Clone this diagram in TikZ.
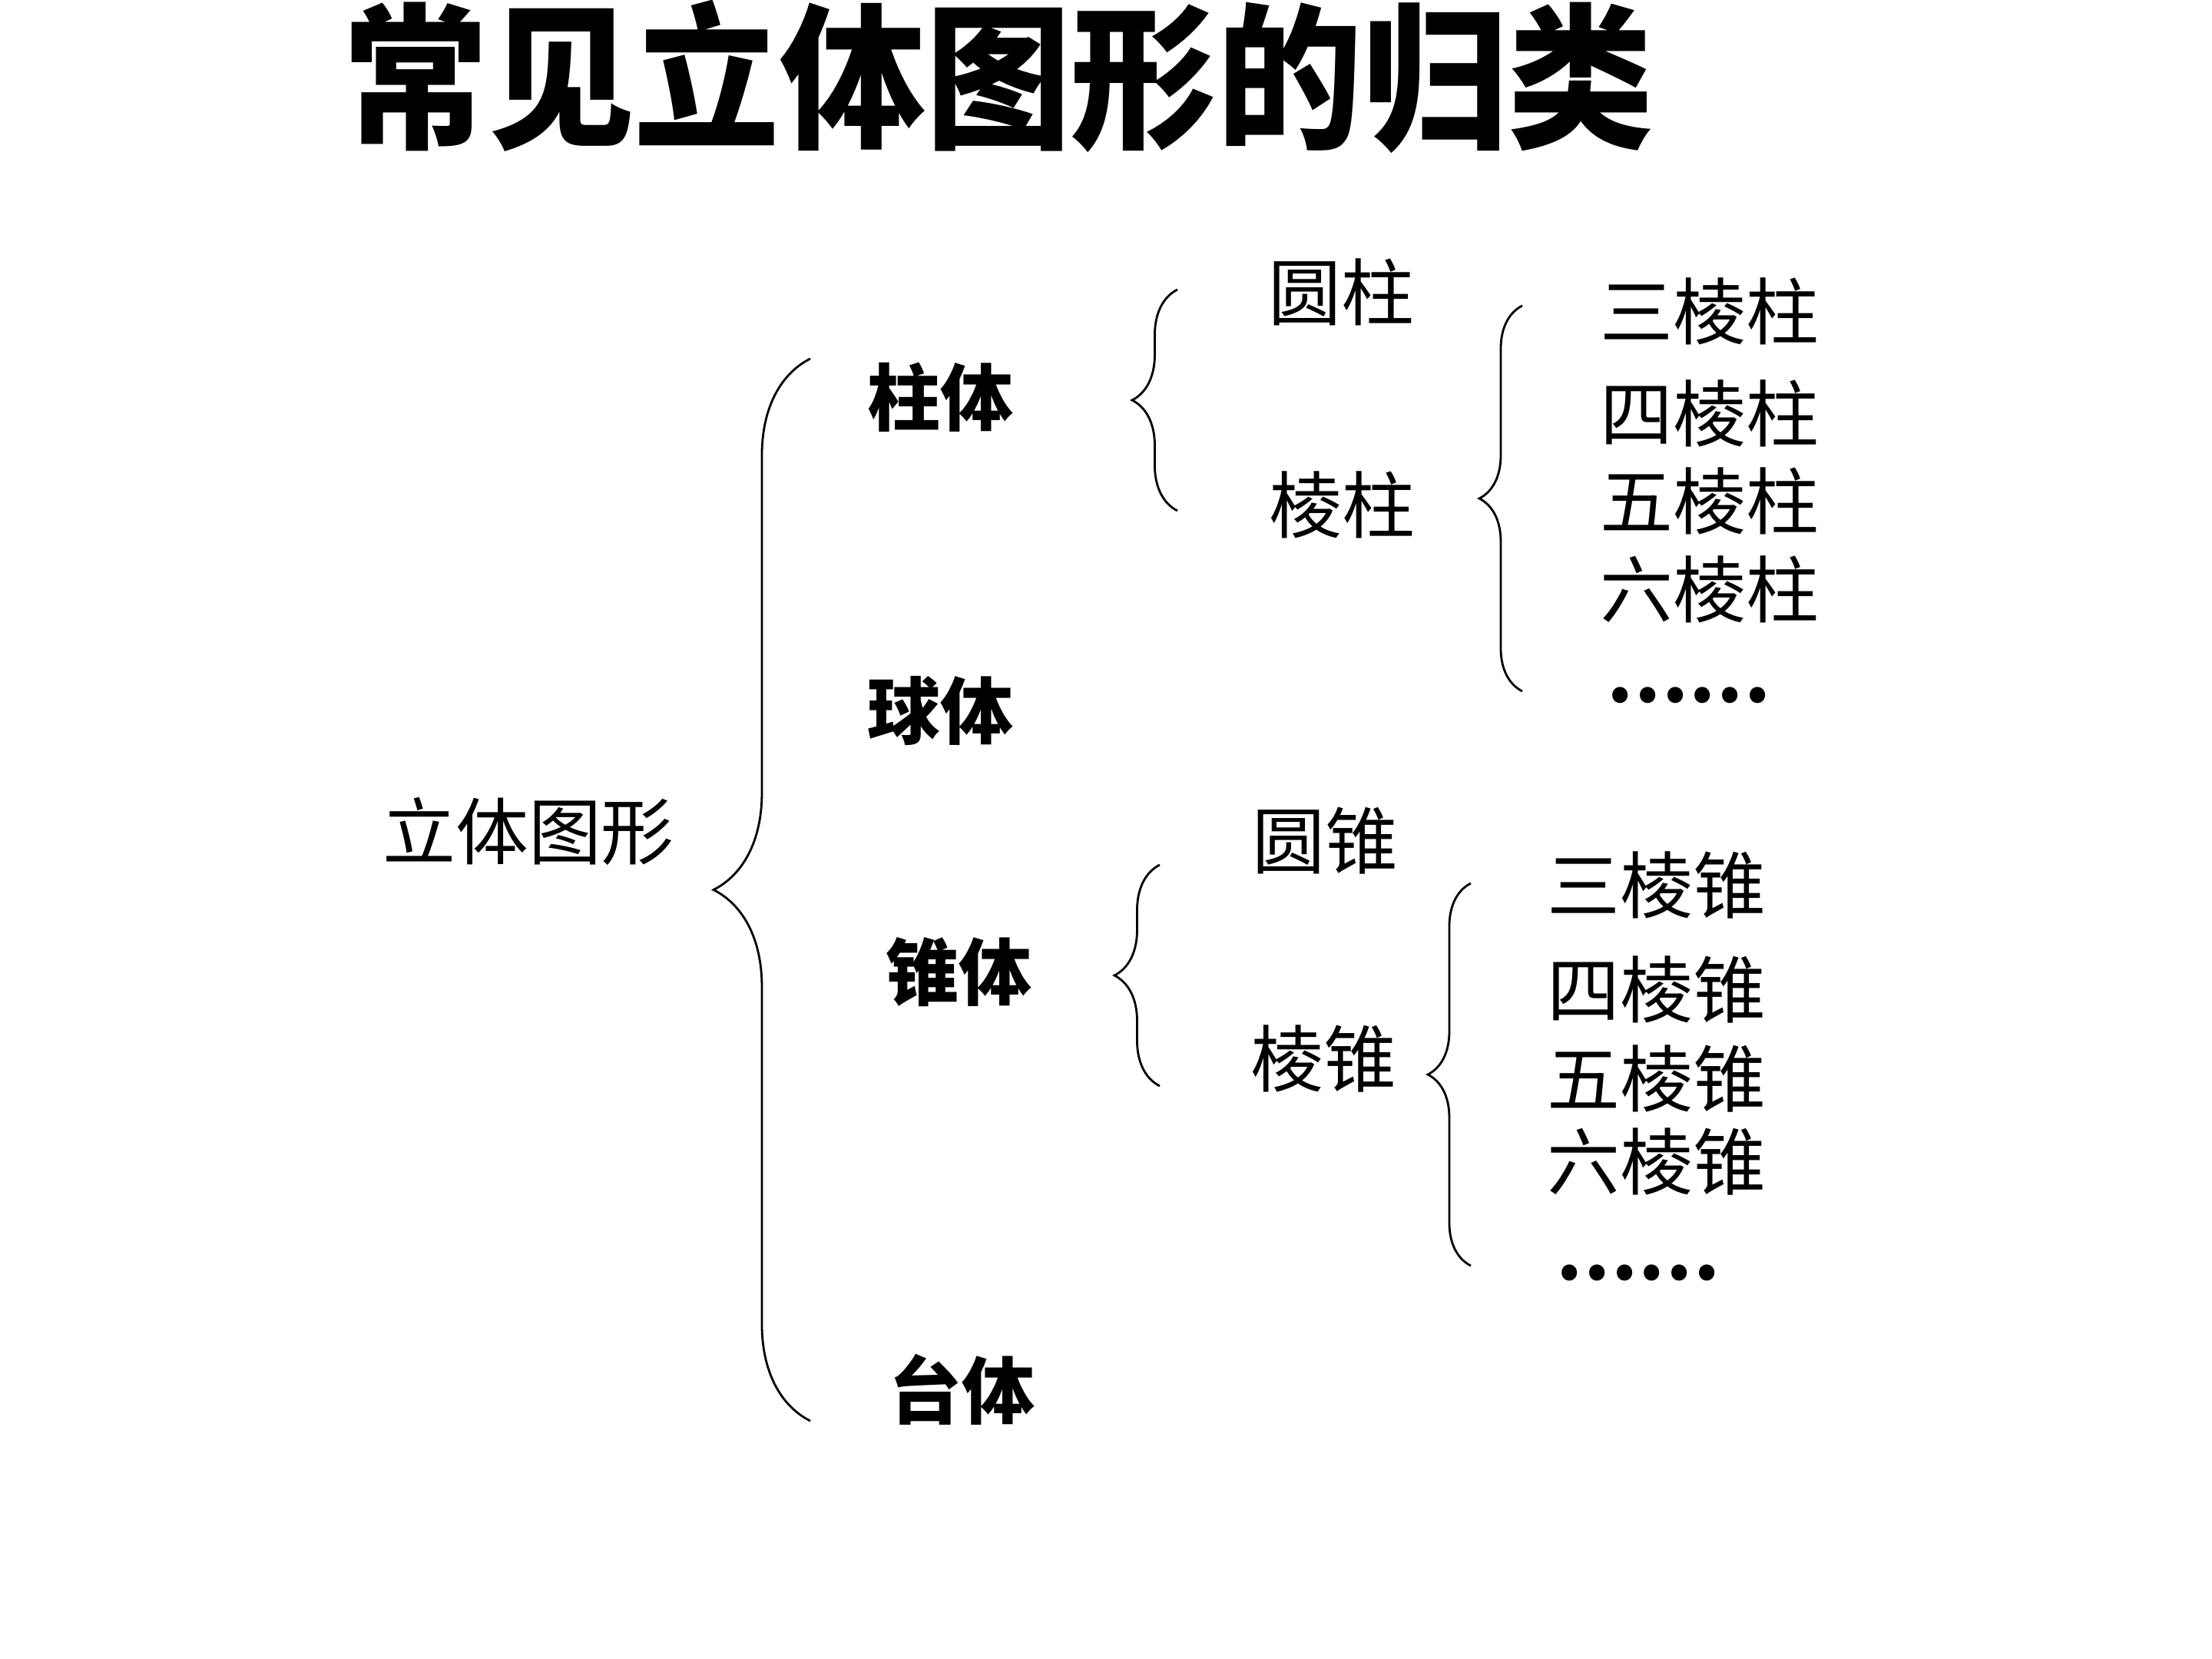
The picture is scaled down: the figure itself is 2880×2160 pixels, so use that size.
\documentclass[tikz,border=0pt]{standalone}
\usepackage{fontspec}
\usepackage{xcolor}
\usetikzlibrary{decorations.pathreplacing}
\newfontfamily\cjk{Noto Sans CJK SC}
\definecolor{ink}{HTML}{000000}
\tikzset{
  headline/.style={font=\cjk\bfseries\fontsize{58}{62}\selectfont, text=ink, inner sep=0pt},
  item/.style={font=\cjk\fontsize{27}{30}\selectfont, text=ink, inner sep=0pt},
  group/.style={font=\cjk\bfseries\fontsize{27}{30}\selectfont, text=ink, inner sep=0pt},
  etc/.style={font=\cjk\bfseries\fontsize{27}{30}\selectfont, text=ink, inner sep=0pt},
  kuohao/.style={decorate, decoration={brace, amplitude=#1}, line width=0.8pt, draw=ink}
}
\begin{document}
\begin{tikzpicture}[x=0.01cm,y=-0.01cm]
  \useasboundingbox (0,0) rectangle (2880,2160);

  \node[headline] (head) at (1300,100) {\scalebox{0.93}[1]{常见立体图形的归类}};

  \node[item] (solid) at (688,1082) {立体图形};

  \node[group] (prism) at (1224,517) {柱体};
  \node[group] (sphere) at (1224,926) {球体};
  \node[group] (cone) at (1248,1266) {锥体};
  \node[group] (frustum) at (1252,1809) {台体};

  \node[item] (cyl) at (1746,380) {圆柱};
  \node[item] (lprism) at (1747,657) {棱柱};
  \node[item] (rcone) at (1725,1095) {圆锥};
  \node[item] (pyr) at (1723,1378) {棱锥};

  \node[item] (p3) at (2226,405) {三棱柱};
  \node[item] (p4) at (2226,538) {四棱柱};
  \node[item] (p5) at (2226,652) {五棱柱};
  \node[item] (p6) at (2226,767) {六棱柱};
  \node[etc] (pdots) at (2198,905) {……};

  \node[item] (y3) at (2157,1152) {三棱锥};
  \node[item] (y4) at (2157,1288) {四棱锥};
  \node[item] (y5) at (2157,1404) {五棱锥};
  \node[item] (y6) at (2157,1512) {六棱锥};
  \node[etc] (ydots) at (2132,1657) {……};

  % brace ends
  \coordinate (solidtop) at (1055,467);
  \coordinate (solidbot) at (1055,1850);
  \coordinate (prismtop) at (1533,377);
  \coordinate (prismbot) at (1533,665);
  \coordinate (lprismtop) at (1982,398);
  \coordinate (lprismbot) at (1982,900);
  \coordinate (conetop) at (1510,1126);
  \coordinate (conebot) at (1510,1414);
  \coordinate (pyrtop) at (1915,1150);
  \coordinate (pyrbot) at (1915,1648);

  \draw[kuohao=1.26cm] (solidbot) -- (solidtop);
  \draw[kuohao=0.59cm] (prismbot) -- (prismtop);
  \draw[kuohao=0.56cm] (lprismbot) -- (lprismtop);
  \draw[kuohao=0.59cm] (conebot) -- (conetop);
  \draw[kuohao=0.56cm] (pyrbot) -- (pyrtop);
\end{tikzpicture}
\end{document}
